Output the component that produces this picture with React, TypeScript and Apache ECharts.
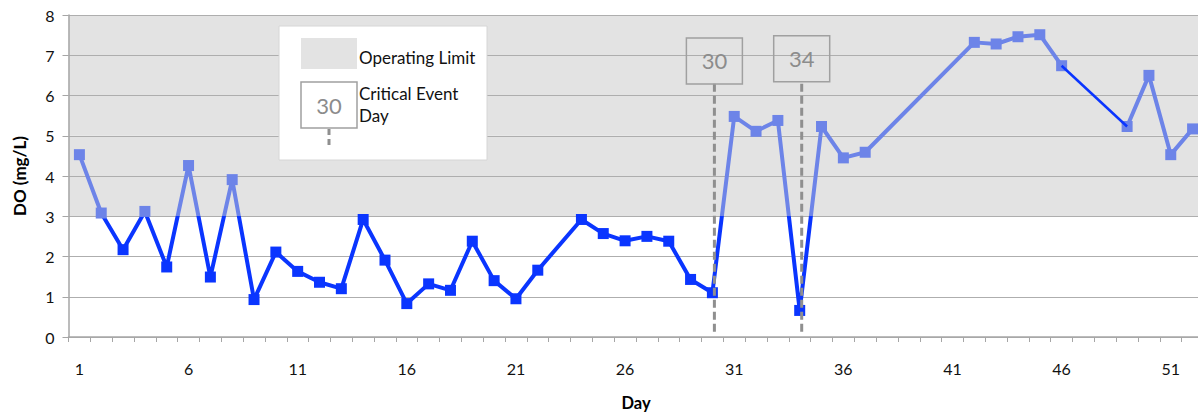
import React, { useEffect, useRef } from "react";
import * as echarts from "echarts";

const days: string[] = Array.from({ length: 52 }, (_, i) => String(i + 1));
const doValues: (number | null)[] = [
  4.53, 3.08, 2.17, 3.12, 1.74, 4.26, 1.49, 3.91, 0.93, 2.11,
  1.63, 1.36, 1.2, 2.92, 1.91, 0.83, 1.32, 1.16, 2.38, 1.4,
  0.95, 1.66, null, 2.92, 2.57, 2.39, 2.5, 2.38, 1.43, 1.1,
  5.48, 5.11, 5.38, 0.66, 5.23, 4.45, 4.59, null, null, null,
  null, 7.32, 7.28, 7.46, 7.51, 6.74, null, null, 5.23, 6.5,
  4.53, 5.17,
];
const yTicks = [0, 1, 2, 3, 4, 5, 6, 7, 8];
const operatingLimit = 3;
const criticalDays = ["30", "34"];
const criticalBoxLevel = [6.86, 6.91];
const criticalLineTop = 6.29;
const criticalLineBottom = 0.12;
const gapStartDay = 46;
const gapEndDay = 49;

const DARK = "#0A35FF";
const LIGHT = "#6D84E8";
const FONT = "Lato";

export default function App() {
  const ref = useRef<HTMLDivElement>(null);
  useEffect(() => {
    if (!ref.current) return;
    const chart = echarts.init(ref.current, undefined, { renderer: "svg" });
    const iStart = days.indexOf(String(gapStartDay));
    const iEnd = days.indexOf(String(gapEndDay));
    const partA = doValues.map((v, i) => (i <= iStart ? v : null));
    const partB = doValues.map((v, i) => (i >= iEnd ? v : null));
    const connector = doValues.map((v, i) => (i === iStart || i === iEnd ? v : null));
    const splitColors = yTicks.slice(0, -1).map((t) => (t >= operatingLimit ? "#E3E3E3" : "#FFFFFF"));

    const yMin = yTicks[0];
    const yMax = yTicks[yTicks.length - 1];

    const baseOption: any = {
      animation: false,
      textStyle: { fontFamily: FONT },
      grid: { left: 68.5, top: 15, width: 1135, height: 323 },
      xAxis: {
        type: "category",
        data: days,
        boundaryGap: true,
        name: "Day",
        nameLocation: "middle",
        nameGap: 57,
        nameTextStyle: { fontWeight: "bold", fontSize: 16.5, color: "#000", fontFamily: FONT },
        axisLine: { lineStyle: { color: "#A6A6A6", width: 1.5 } },
        axisTick: { show: true, interval: 0, length: 5, lineStyle: { color: "#A6A6A6" } },
        axisLabel: { interval: 4, margin: 23, fontSize: 16, color: "#111", fontFamily: FONT },
        splitLine: { show: false },
      },
      yAxis: {
        type: "value",
        min: yMin,
        max: yMax,
        interval: 1,
        name: "DO (mg/L)",
        nameLocation: "middle",
        nameRotate: 90,
        nameGap: 41,
        nameTextStyle: { fontWeight: "bold", fontSize: 17, color: "#000", fontFamily: FONT },
        axisLine: { show: true, lineStyle: { color: "#A6A6A6", width: 1.5 } },
        axisTick: { show: true, length: 6, lineStyle: { color: "#A6A6A6" } },
        axisLabel: { margin: 14, fontSize: 16, color: "#111", fontFamily: FONT },
        splitLine: { show: true, lineStyle: { color: "#AEAEAE", width: 1 } },
        splitArea: { show: true, areaStyle: { color: splitColors } },
      },
      series: [],
    };
    chart.setOption(baseOption);

    const yTop = chart.convertToPixel({ yAxisIndex: 0 }, yMax) as number;
    const yBottom = chart.convertToPixel({ yAxisIndex: 0 }, yMin) as number;
    const off = (yMax - operatingLimit) / (yMax - yMin);
    const gradient = () =>
      new echarts.graphic.LinearGradient(
        0, yTop, 0, yBottom,
        [
          { offset: 0, color: LIGHT },
          { offset: off, color: LIGHT },
          { offset: off, color: DARK },
          { offset: 1, color: DARK },
        ],
        true
      );

    const mainSeries = (data: (number | null)[]) => ({
      type: "line",
      data,
      connectNulls: true,
      symbol: "rect",
      symbolSize: 11,
      lineStyle: { width: 4, color: gradient() },
      itemStyle: {
        color: (p: any) => (p.value >= operatingLimit ? LIGHT : DARK),
      },
      z: 2,
    });

    const px = (d: string, v: number) =>
      chart.convertToPixel({ gridIndex: 0 }, [d, v]) as number[];

    const eventGraphics: any[] = [];
    criticalDays.forEach((d, i) => {
      const top = px(d, criticalLineTop);
      const bottom = px(d, criticalLineBottom);
      const box = px(d, criticalBoxLevel[i]);
      eventGraphics.push(
        {
          type: "line",
          z: 50,
          shape: { x1: top[0] + 2, y1: top[1], x2: bottom[0] + 2, y2: bottom[1] },
          style: { stroke: "#8F8F8F", lineWidth: 3, lineDash: [8, 4] },
        },
        {
          type: "rect",
          z: 50,
          shape: { x: box[0] + 2 - 28, y: box[1] - 23, width: 56, height: 46 },
          style: { fill: "rgba(0,0,0,0)", stroke: "#A0A0A0", lineWidth: 1.5 },
        },
        {
          type: "text",
          z: 51,
          x: box[0] + 2,
          y: box[1],
          style: { text: d, fill: "#8C8C8C", fontSize: 22, fontFamily: FONT, align: "center", verticalAlign: "middle" },
        }
      );
    });

    chart.setOption({
      series: [
        mainSeries(partA),
        mainSeries(partB),
        {
          type: "line",
          data: connector,
          connectNulls: true,
          showSymbol: false,
          symbol: "none",
          lineStyle: { color: DARK, width: 2.5 },
          itemStyle: { color: DARK },
          z: 4,
        },
      ],
      graphic: [
        ...eventGraphics,
        {
          type: "group",
          z: 100,
          children: [
            {
              type: "rect",
              shape: { x: 279, y: 26, width: 208, height: 134 },
              style: { fill: "#FFFFFF", stroke: "#D6D6D6", lineWidth: 1 },
            },
            {
              type: "rect",
              shape: { x: 301, y: 38, width: 56, height: 31 },
              style: { fill: "#E3E3E3" },
            },
            {
              type: "text",
              x: 359,
              y: 57,
              style: { text: "Operating Limit", fill: "#111", fontSize: 17, fontFamily: FONT, verticalAlign: "middle" },
            },
            {
              type: "rect",
              shape: { x: 301, y: 82, width: 56, height: 46 },
              style: { fill: "#FFFFFF", stroke: "#A0A0A0", lineWidth: 1.5 },
            },
            {
              type: "text",
              x: 329,
              y: 105,
              style: { text: criticalDays[0], fill: "#8C8C8C", fontSize: 22, fontFamily: FONT, align: "center", verticalAlign: "middle" },
            },
            {
              type: "line",
              shape: { x1: 329, y1: 129, x2: 329, y2: 149 },
              style: { stroke: "#8F8F8F", lineWidth: 3, lineDash: [6, 4] },
            },
            {
              type: "text",
              x: 359,
              y: 82,
              style: { text: "Critical Event\nDay", fill: "#111", fontSize: 17, lineHeight: 22, fontFamily: FONT, verticalAlign: "top" },
            },
          ],
        },
      ],
    });
    return () => chart.dispose();
  }, []);
  return (
    <div style={{ position: "fixed", left: 0, top: 0, width: 1198, height: 416, overflow: "hidden", background: "#fff" }}>
      <div ref={ref} style={{ width: 1206, height: 416 }} />
    </div>
  );
}
